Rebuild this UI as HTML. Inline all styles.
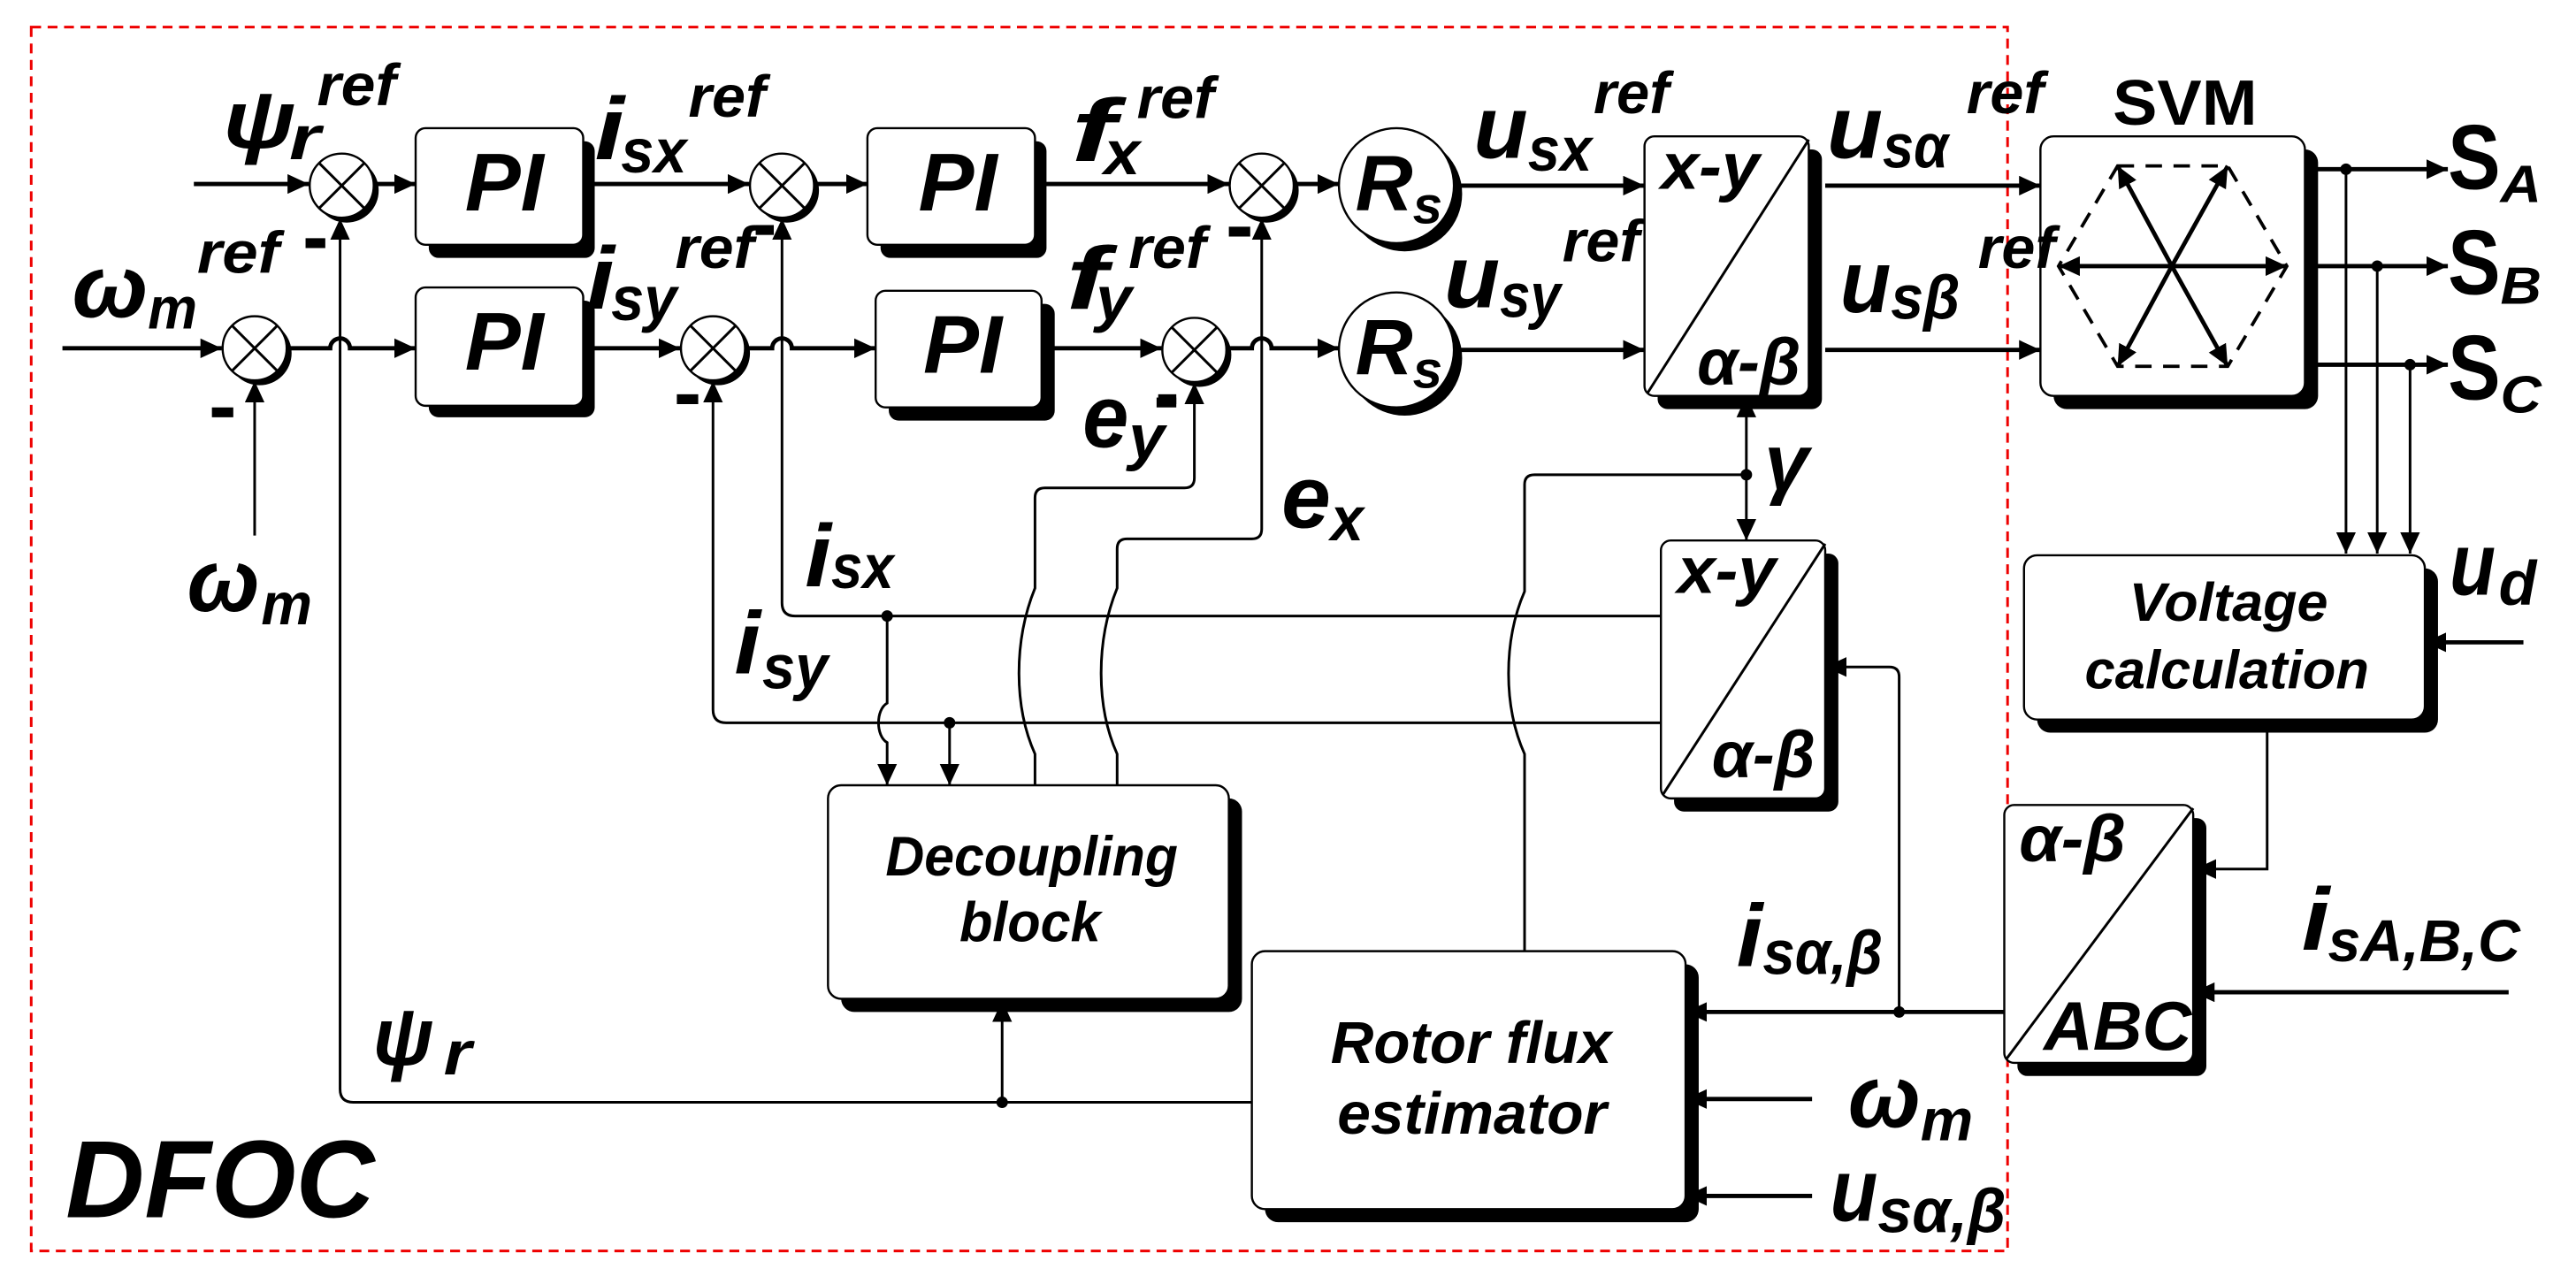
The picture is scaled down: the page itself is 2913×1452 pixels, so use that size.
<!DOCTYPE html>
<html><head><meta charset="utf-8"><style>
html,body{margin:0;padding:0;background:#fff;}
svg{display:block;}
text{font-family:"Liberation Sans",sans-serif;font-weight:bold;font-style:italic;fill:#000;}
.ln{fill:none;stroke:#000;stroke-width:2.6;}
.tn{fill:none;stroke:#000;stroke-width:1.6;}
.bx{fill:#fff;stroke:#000;stroke-width:1.3;}
.sh{fill:#000;}
</style></head><body>
<svg width="2913" height="1452" viewBox="0 0 1568 781.6" preserveAspectRatio="none" xmlns="http://www.w3.org/2000/svg">
<defs>
<marker id="a" markerUnits="userSpaceOnUse" markerWidth="14" markerHeight="12" refX="13" refY="6" orient="auto"><path d="M0,0 L13,6 L0,12 Z" fill="#000"/></marker>
<marker id="as" markerUnits="userSpaceOnUse" markerWidth="14" markerHeight="12" refX="1" refY="6" orient="auto"><path d="M14,0 L1,6 L14,12 Z" fill="#000"/></marker>
</defs>

<rect x="19" y="16.5" width="1203" height="745" fill="none" stroke="#e00" stroke-width="1.6" stroke-dasharray="6,4"/>

<g>
<rect class="sh" x="261" y="86" width="101" height="71" rx="6"/><rect class="bx" x="253" y="78" width="102" height="71" rx="6"/>
<rect class="sh" x="536" y="86" width="101" height="71" rx="6"/><rect class="bx" x="528" y="78" width="102" height="71" rx="6"/>
<rect class="sh" x="261" y="183" width="101" height="71" rx="6"/><rect class="bx" x="253" y="175" width="102" height="72" rx="6"/>
<rect class="sh" x="541" y="185" width="101" height="71" rx="6"/><rect class="bx" x="533" y="177" width="101" height="71" rx="6"/>

<rect class="sh" x="1009" y="91" width="100" height="158" rx="6"/><rect class="bx" x="1001" y="83" width="100" height="158" rx="6"/>
<line class="tn" x1="1101" y1="85" x2="1003" y2="239"/>
<rect class="sh" x="1019" y="337" width="100" height="157" rx="6"/><rect class="bx" x="1011" y="329" width="100" height="157" rx="6"/>
<line class="tn" x1="1111" y1="331" x2="1012" y2="484"/>
<rect class="sh" x="1228" y="498" width="115" height="157" rx="6"/><rect class="bx" x="1220" y="490" width="115" height="157" rx="6"/>
<line class="tn" x1="1335" y1="492" x2="1221" y2="645"/>

<rect class="sh" x="1250" y="91" width="161" height="158" rx="8"/><rect class="bx" x="1242" y="83" width="161" height="158" rx="8"/>
<rect class="sh" x="1240" y="346" width="244" height="100" rx="8"/><rect class="bx" x="1232" y="338" width="244" height="100" rx="8"/>
<rect class="sh" x="512" y="486" width="244" height="130" rx="8"/><rect class="bx" x="504" y="478" width="244" height="130" rx="8"/>
<rect class="sh" x="770" y="587" width="264" height="157" rx="8"/><rect class="bx" x="762" y="579" width="264" height="157" rx="8"/>
</g>

<g>
<circle cx="211" cy="116" r="19.5" class="sh"/><circle cx="208" cy="113" r="19.5" class="bx" stroke-width="1.8"/>
<circle cx="479" cy="116" r="19.5" class="sh"/><circle cx="476" cy="113" r="19.5" class="bx" stroke-width="1.8"/>
<circle cx="771" cy="116" r="19.5" class="sh"/><circle cx="768" cy="113" r="19.5" class="bx" stroke-width="1.8"/>
<circle cx="158" cy="215" r="19.5" class="sh"/><circle cx="155" cy="212" r="19.5" class="bx" stroke-width="1.8"/>
<circle cx="437" cy="215" r="19.5" class="sh"/><circle cx="434" cy="212" r="19.5" class="bx" stroke-width="1.8"/>
<circle cx="730" cy="216" r="19.5" class="sh"/><circle cx="727" cy="213" r="19.5" class="bx" stroke-width="1.8"/>
</g>
<g class="tn">
<path d="M194.2 99.2 L221.8 126.8 M221.8 99.2 L194.2 126.8"/>
<path d="M462.2 99.2 L489.8 126.8 M489.8 99.2 L462.2 126.8"/>
<path d="M754.2 99.2 L781.8 126.8 M781.8 99.2 L754.2 126.8"/>
<path d="M141.2 198.2 L168.8 225.8 M168.8 198.2 L141.2 225.8"/>
<path d="M420.2 198.2 L447.8 225.8 M447.8 198.2 L420.2 225.8"/>
<path d="M713.2 199.2 L740.8 226.8 M740.8 199.2 L713.2 226.8"/>
</g>
<ellipse cx="855" cy="118" rx="35" ry="35" class="sh"/><ellipse cx="850" cy="113" rx="35" ry="35" class="bx"/>
<ellipse cx="855" cy="218" rx="35" ry="35" class="sh"/><ellipse cx="850" cy="213" rx="35" ry="35" class="bx"/>

<g class="ln" marker-end="url(#a)">
<path d="M118 112 H188"/>
<path d="M228 112 H253"/>
<path d="M355 112 H456"/>
<path d="M496 112 H528"/>
<path d="M630 112 H748"/>
<path d="M788 112 H815"/>
<path d="M885 113 H1001"/>
<path d="M1111 113 H1242"/>
<path d="M38 212 H135"/>
<path d="M175 212 H201 a6 6 0 0 1 12 0 H253"/>
<path d="M355 212 H414"/>
<path d="M454 212 H470 a6 6 0 0 1 12 0 H533"/>
<path d="M634 212 H707"/>
<path d="M747 212 H762 a6 6 0 0 1 12 0 H815"/>
<path d="M885 213 H1001"/>
<path d="M1111 213 H1242"/>
<path d="M1403 103 H1490"/>
<path d="M1403 162 H1490"/>
<path d="M1403 222 H1490"/>
</g>
<g class="tn" marker-end="url(#a)">
<path d="M1428 103 V337"/>
<path d="M1447 162 V337"/>
<path d="M1467 222 V337"/>
<path d="M762 671 H215 Q207 671 207 663 V133"/>
<path d="M155 326 V232"/>
<path d="M610 671 V609"/>
<path d="M1011 375 H484 Q476 375 476 367 V133"/>
<path d="M1011 440 H442 Q434 440 434 432 V232"/>
<path d="M540 375 V428 C533 432 533 448 540 452 V478"/>
<path d="M578 440 V478"/>
<path d="M630 478 V459 C617 430 617 390 630 358 V303 Q630 297 636 297 H721 Q727 297 727 291 V233"/>
<path d="M680 478 V459 C667 430 667 390 680 358 V334 Q680 328 686 328 H762 Q768 328 768 322 V133"/>
<path d="M1156 616 V412 Q1156 406 1150 406 H1111"/>
<path d="M1380 438 V529 H1336"/>
</g>
<g class="ln" marker-end="url(#a)">
<path d="M1220 616 H1026"/>
<path d="M1103 669 H1026"/>
<path d="M1103 728 H1026"/>
<path d="M1536 391 H1476"/>
<path d="M1527 604 H1335"/>
</g>
<path class="tn" d="M1063 241 V329" marker-start="url(#as)" marker-end="url(#a)"/>
<path class="tn" d="M1063 289 H934 Q928 289 928 295 V360 C915 390 915 430 928 459 V579"/>
<g fill="#000">
<circle cx="1428" cy="103" r="3.5"/><circle cx="1447" cy="162" r="3.5"/><circle cx="1467" cy="222" r="3.5"/>
<circle cx="540" cy="375" r="3.5"/><circle cx="578" cy="440" r="3.5"/><circle cx="610" cy="671" r="3.5"/>
<circle cx="1063" cy="289" r="3.5"/><circle cx="1156" cy="616" r="3.5"/>
</g>

<g>
<path d="M1289 101 L1356 101 L1392 162 L1356 223 L1289 223 L1253 162 Z" fill="none" stroke="#000" stroke-width="2" stroke-dasharray="10,7"/>
<g class="ln" marker-end="url(#a)" stroke-width="2.4">
<path d="M1322 162 L1253 162"/><path d="M1322 162 L1392 162"/>
<path d="M1322 162 L1289 101"/><path d="M1322 162 L1356 101"/>
<path d="M1322 162 L1289 223"/><path d="M1322 162 L1356 223"/>
</g>
</g>

<g fill="#000">
<rect x="186" y="145" width="12" height="6"/>
<rect x="129" y="248" width="13" height="6"/>
<rect x="460" y="137" width="11" height="6"/>
<rect x="412" y="240" width="13" height="6"/>
<rect x="748" y="138" width="13" height="6"/>
<rect x="704" y="242" width="12" height="6"/>
</g>

<!-- block texts -->
<text x="283" y="128" font-size="50" textLength="48" lengthAdjust="spacingAndGlyphs">PI</text>
<text x="559" y="128" font-size="50" textLength="48" lengthAdjust="spacingAndGlyphs">PI</text>
<text x="283" y="225" font-size="50" textLength="48" lengthAdjust="spacingAndGlyphs">PI</text>
<text x="562" y="227" font-size="50" textLength="48" lengthAdjust="spacingAndGlyphs">PI</text>
<text x="825" y="128" font-size="48" textLength="35" lengthAdjust="spacingAndGlyphs">R</text><text x="860" y="136" font-size="32" textLength="18" lengthAdjust="spacingAndGlyphs">s</text>
<text x="825" y="228" font-size="48" textLength="35" lengthAdjust="spacingAndGlyphs">R</text><text x="860" y="236" font-size="32" textLength="18" lengthAdjust="spacingAndGlyphs">s</text>
<text x="1011" y="115" font-size="40" textLength="60" lengthAdjust="spacingAndGlyphs">x-y</text>
<text x="1033" y="234" font-size="40" textLength="63" lengthAdjust="spacingAndGlyphs">α-β</text>
<text x="1021" y="361" font-size="40" textLength="60" lengthAdjust="spacingAndGlyphs">x-y</text>
<text x="1042" y="473" font-size="40" textLength="63" lengthAdjust="spacingAndGlyphs">α-β</text>
<text x="1229" y="524" font-size="40" textLength="65" lengthAdjust="spacingAndGlyphs">α-β</text>
<text x="1244" y="639" font-size="42" textLength="90" lengthAdjust="spacingAndGlyphs">ABC</text>
<text x="1286" y="76" font-size="39" style="font-style:normal" textLength="88" lengthAdjust="spacingAndGlyphs">SVM</text>
<text x="539" y="533" font-size="34" textLength="178" lengthAdjust="spacingAndGlyphs">Decoupling</text>
<text x="584" y="573" font-size="34" textLength="86" lengthAdjust="spacingAndGlyphs">block</text>
<text x="810" y="647" font-size="36" textLength="171" lengthAdjust="spacingAndGlyphs">Rotor flux</text>
<text x="814" y="690" font-size="36" textLength="164" lengthAdjust="spacingAndGlyphs">estimator</text>
<text x="1296" y="378" font-size="33" textLength="121" lengthAdjust="spacingAndGlyphs">Voltage</text>
<text x="1269" y="419" font-size="33" textLength="173" lengthAdjust="spacingAndGlyphs">calculation</text>
<text x="40" y="741" font-size="67" textLength="188" lengthAdjust="spacingAndGlyphs">DFOC</text>

<!-- signal labels -->
<text x="136" y="90" font-size="50" textLength="44" lengthAdjust="spacingAndGlyphs">ψ</text><text x="176" y="97" font-size="38" textLength="19" lengthAdjust="spacingAndGlyphs">r</text><text x="193" y="64" font-size="36" textLength="48" lengthAdjust="spacingAndGlyphs">ref</text>
<text x="362" y="97" font-size="54" textLength="18" lengthAdjust="spacingAndGlyphs">i</text><text x="378" y="105" font-size="38" textLength="40" lengthAdjust="spacingAndGlyphs">sx</text><text x="419" y="71" font-size="36" textLength="47" lengthAdjust="spacingAndGlyphs">ref</text>
<text x="652" y="98" font-size="54" textLength="27" lengthAdjust="spacingAndGlyphs">f</text><text x="672" y="106" font-size="38" textLength="22" lengthAdjust="spacingAndGlyphs">x</text><text x="692" y="72" font-size="36" textLength="47" lengthAdjust="spacingAndGlyphs">ref</text>
<text x="897" y="96" font-size="54" textLength="33" lengthAdjust="spacingAndGlyphs">u</text><text x="930" y="104" font-size="38" textLength="39" lengthAdjust="spacingAndGlyphs">sx</text><text x="970" y="69" font-size="36" textLength="46" lengthAdjust="spacingAndGlyphs">ref</text>
<text x="1112" y="96" font-size="54" textLength="34" lengthAdjust="spacingAndGlyphs">u</text><text x="1146" y="102" font-size="38" textLength="40" lengthAdjust="spacingAndGlyphs">sα</text><text x="1197" y="69" font-size="36" textLength="47" lengthAdjust="spacingAndGlyphs">ref</text>
<text x="1490" y="115" font-size="56" style="font-style:normal" textLength="32" lengthAdjust="spacingAndGlyphs">S</text><text x="1522" y="123" font-size="32" textLength="25" lengthAdjust="spacingAndGlyphs">A</text>
<text x="1490" y="179" font-size="56" style="font-style:normal" textLength="32" lengthAdjust="spacingAndGlyphs">S</text><text x="1522" y="185" font-size="32" textLength="25" lengthAdjust="spacingAndGlyphs">B</text>
<text x="1490" y="243" font-size="56" style="font-style:normal" textLength="32" lengthAdjust="spacingAndGlyphs">S</text><text x="1522" y="251" font-size="32" textLength="25" lengthAdjust="spacingAndGlyphs">C</text>
<text x="44" y="193" font-size="54" textLength="46" lengthAdjust="spacingAndGlyphs">ω</text><text x="90" y="200" font-size="36" textLength="30" lengthAdjust="spacingAndGlyphs">m</text><text x="120" y="166" font-size="36" textLength="50" lengthAdjust="spacingAndGlyphs">ref</text>
<text x="357" y="188" font-size="54" textLength="17" lengthAdjust="spacingAndGlyphs">i</text><text x="372" y="195" font-size="38" textLength="40" lengthAdjust="spacingAndGlyphs">sy</text><text x="411" y="163" font-size="36" textLength="48" lengthAdjust="spacingAndGlyphs">ref</text>
<text x="649" y="188" font-size="54" textLength="25" lengthAdjust="spacingAndGlyphs">f</text><text x="667" y="195" font-size="38" textLength="22" lengthAdjust="spacingAndGlyphs">y</text><text x="687" y="163" font-size="36" textLength="47" lengthAdjust="spacingAndGlyphs">ref</text>
<text x="879" y="187" font-size="54" textLength="34" lengthAdjust="spacingAndGlyphs">u</text><text x="913" y="193" font-size="38" textLength="37" lengthAdjust="spacingAndGlyphs">sy</text><text x="951" y="159" font-size="36" textLength="47" lengthAdjust="spacingAndGlyphs">ref</text>
<text x="1120" y="190" font-size="54" textLength="31" lengthAdjust="spacingAndGlyphs">u</text><text x="1151" y="194" font-size="38" textLength="42" lengthAdjust="spacingAndGlyphs">sβ</text><text x="1204" y="163" font-size="36" textLength="47" lengthAdjust="spacingAndGlyphs">ref</text>
<text x="659" y="272" font-size="54" textLength="28" lengthAdjust="spacingAndGlyphs">e</text><text x="687" y="279" font-size="38" textLength="22" lengthAdjust="spacingAndGlyphs">y</text>
<rect x="705" y="240" width="11" height="6" fill="#000"/>
<text x="780" y="321" font-size="54" textLength="30" lengthAdjust="spacingAndGlyphs">e</text><text x="810" y="329" font-size="38" textLength="20" lengthAdjust="spacingAndGlyphs">x</text>
<text x="1074" y="298" font-size="48" textLength="27" lengthAdjust="spacingAndGlyphs">γ</text>
<text x="490" y="357" font-size="54" textLength="16" lengthAdjust="spacingAndGlyphs">i</text><text x="506" y="358" font-size="38" textLength="38" lengthAdjust="spacingAndGlyphs">sx</text>
<text x="447" y="410" font-size="54" textLength="16" lengthAdjust="spacingAndGlyphs">i</text><text x="464" y="419" font-size="38" textLength="40" lengthAdjust="spacingAndGlyphs">sy</text>
<text x="114" y="372" font-size="54" textLength="44" lengthAdjust="spacingAndGlyphs">ω</text><text x="159" y="380" font-size="36" textLength="31" lengthAdjust="spacingAndGlyphs">m</text>
<text x="227" y="648" font-size="50" textLength="37" lengthAdjust="spacingAndGlyphs">ψ</text><text x="270" y="654" font-size="38" textLength="17" lengthAdjust="spacingAndGlyphs">r</text>
<text x="1057" y="588" font-size="54" textLength="16" lengthAdjust="spacingAndGlyphs">i</text><text x="1073" y="593" font-size="38" textLength="73" lengthAdjust="spacingAndGlyphs">sα,β</text>
<text x="1401" y="578" font-size="54" textLength="17" lengthAdjust="spacingAndGlyphs">i</text><text x="1417" y="585" font-size="36" textLength="117" lengthAdjust="spacingAndGlyphs">sA,B,C</text>
<text x="1125" y="686" font-size="54" textLength="44" lengthAdjust="spacingAndGlyphs">ω</text><text x="1169" y="694" font-size="36" textLength="32" lengthAdjust="spacingAndGlyphs">m</text>
<text x="1114" y="743" font-size="54" textLength="29" lengthAdjust="spacingAndGlyphs">u</text><text x="1143" y="750" font-size="38" textLength="78" lengthAdjust="spacingAndGlyphs">sα,β</text>
<text x="1491" y="362" font-size="54" textLength="28" lengthAdjust="spacingAndGlyphs">u</text><text x="1521" y="368" font-size="38" textLength="23" lengthAdjust="spacingAndGlyphs">d</text>
</svg>
</body></html>
